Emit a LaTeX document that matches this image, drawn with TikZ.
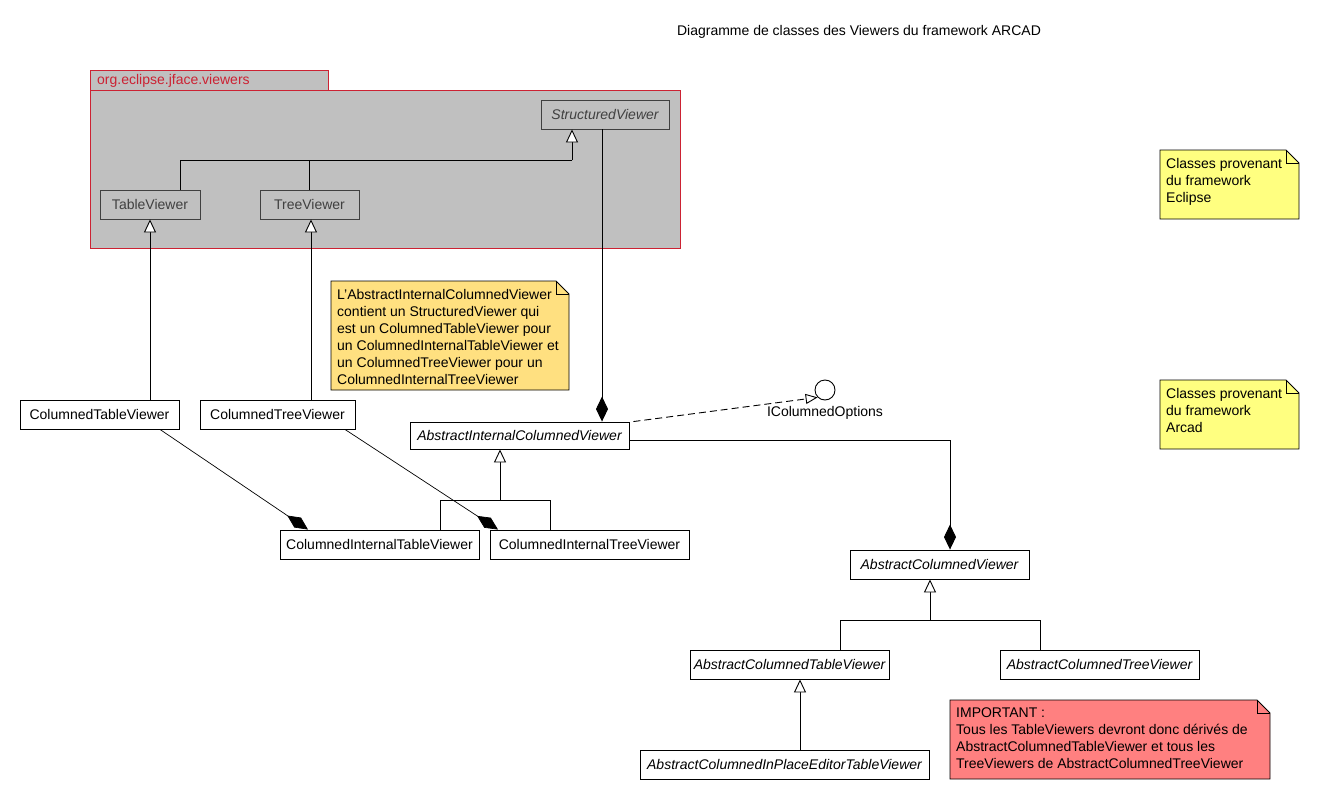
\documentclass[tikz,border=0pt]{standalone}
\usepackage{fontspec}
\setmainfont{Liberation Sans}
\usetikzlibrary{arrows.meta,calc}

\definecolor{pkgfill}{HTML}{C0C0C0}
\definecolor{pkgline}{HTML}{CC2233}
\definecolor{ink}{HTML}{404040}
\definecolor{notegold}{HTML}{FFE080}
\definecolor{noteyellow}{HTML}{FFFF80}
\definecolor{notered}{HTML}{FF8080}

\newcommand\uifont{\fontsize{14}{17}\selectfont}

\tikzset{
  cls/.style={draw, fill=white, inner sep=0pt, font=\uifont, line width=0.9pt},
  abs/.style={cls, font=\uifont\itshape},
  pcls/.style={cls, draw=ink, text=ink, fill=none},
  link/.style={draw, line width=0.9pt},
  gen/.style={link, -{Triangle[length=13pt,width=12pt,fill=white]}},
  comp/.style={link, -{Diamond[length=25pt,width=12pt]}},
  real/.style={link, dash pattern=on 7pt off 4pt, -{Triangle[length=12pt,width=10pt,fill=white]}},
  notebord/.style={draw=black, line width=0.9pt},
  notetext/.style={anchor=north west, align=left, font=\uifont, inner xsep=6pt, inner ysep=8pt},
}

% UML note: name, fill, x1, y1, x2, y2, text
\newcommand\notebox[7]{%
  \filldraw[fill=#2, notebord] (#3,#4) -- ({#5-13},#4) -- (#5,{#4+13}) -- (#5,#6) -- (#3,#6) -- cycle;
  \draw[notebord] ({#5-13},#4) -- ({#5-13},{#4+13}) -- (#5,{#4+13});
  \node[notetext] (#1) at (#3,#4) {#7};}

\begin{document}
\begin{tikzpicture}[x=1pt,y=-1pt]
\useasboundingbox[fill=white] (0,0) rectangle (1320,800);

% title
\node[font=\uifont] (title) at (859,32) {Diagramme de classes des Viewers du framework ARCAD};

% package org.eclipse.jface.viewers
\filldraw[fill=pkgfill, draw=pkgline, line width=0.9pt] (90,70) rectangle (328,90);
\filldraw[fill=pkgfill, draw=pkgline, line width=0.9pt] (90,90) rectangle (680,248);
\node[font=\uifont, text=pkgline, anchor=west, inner sep=0] (pkg) at (97,81) {org.eclipse.jface.viewers};

\node[pcls, font=\uifont\itshape, minimum width=128pt, minimum height=29pt] (sv) at (605,114.5) {StructuredViewer};
\node[pcls, minimum width=100pt, minimum height=29pt] (tav) at (150,204.5) {TableViewer};
\node[pcls, minimum width=99pt, minimum height=29pt] (trv) at (309.5,204.5) {TreeViewer};

% ARCAD classes
\node[cls, minimum width=159pt, minimum height=29pt] (ctv) at (99.5,414.5) {ColumnedTableViewer};
\node[cls, minimum width=155pt, minimum height=29pt] (crv) at (277.5,414.5) {ColumnedTreeViewer};
\node[abs, minimum width=219pt, minimum height=27pt] (aicv) at (519.5,435.5) {AbstractInternalColumnedViewer};
\node[cls, minimum width=199pt, minimum height=29pt] (citv) at (379.5,544.5) {ColumnedInternalTableViewer};
\node[cls, minimum width=199pt, minimum height=29pt] (cirv) at (589.5,544.5) {ColumnedInternalTreeViewer};
\node[abs, minimum width=179pt, minimum height=29pt] (acv) at (939.5,564.5) {AbstractColumnedViewer};
\node[abs, minimum width=199pt, minimum height=29pt] (actv) at (789.5,664.5) {AbstractColumnedTableViewer};
\node[abs, minimum width=199pt, minimum height=29pt] (acrv) at (1099.5,664.5) {AbstractColumnedTreeViewer};
\node[abs, minimum width=289pt, minimum height=29pt] (acipv) at (784.5,764.5) {AbstractColumnedInPlaceEditorTableViewer};

% interface
\node[draw, circle, line width=0.9pt, minimum size=20pt, inner sep=0pt, fill=white] (ico) at (825,390) {};
\node[font=\uifont, inner sep=0pt] (icol) at (825,413) {IColumnedOptions};

% notes
\notebox{noteint}{notegold}{331}{281}{569}{390}{L'AbstractInternalColumnedViewer\\contient un StructuredViewer qui\\est un ColumnedTableViewer pour\\un ColumnedInternalTableViewer et\\un ColumnedTreeViewer pour un\\ColumnedInternalTreeViewer}
\notebox{noteecl}{noteyellow}{1160}{150}{1299}{219}{Classes provenant\\du framework\\Eclipse}
\notebox{notearc}{noteyellow}{1160}{380}{1299}{449}{Classes provenant\\du framework\\Arcad}
\notebox{noteimp}{notered}{950}{700}{1270}{779}{IMPORTANT :\\Tous les TableViewers devront donc dérivés de\\AbstractColumnedTableViewer et tous les\\TreeViewers de AbstractColumnedTreeViewer}

% generalisations inside the package
\coordinate (jsv) at (572,160);
\draw[link] ([xshift=30pt]tav.north) |- (jsv);
\draw[link] (trv.north) -- (trv.north |- jsv);
\draw[gen] (jsv) -- (jsv |- sv.south);

% columned viewers extend the JFace viewers
\draw[gen] (ctv.north -| tav.south) -- (tav.south);
\draw[gen] ([xshift=1.5pt]trv.south |- crv.north) -- ([xshift=1.5pt]trv.south);

% StructuredViewer held by AbstractInternalColumnedViewer
\draw[comp] ([xshift=-3pt]sv.south) -- ([xshift=-3pt]sv.south |- aicv.north);

% realisation of IColumnedOptions
\draw[real] ([xshift=4pt]aicv.north east) -- (ico.-135);

% internal viewers extend AbstractInternalColumnedViewer
\coordinate (jai) at (500,500);
\draw[link] ([xshift=60.5pt]citv.north) |- ([xshift=-39.5pt]cirv.north |- jai) -- ([xshift=-39.5pt]cirv.north);
\draw[gen] (jai) -- (jai |- aicv.south);

% compositions of the columned viewers
\draw[comp, line width=0.7pt] ([xshift=60.5pt]ctv.south) -- ([xshift=-71.5pt]citv.north);
\draw[comp, line width=0.7pt] ([xshift=67.5pt]crv.south) -- ([xshift=-91.5pt]cirv.north);

% AbstractInternalColumnedViewer held by AbstractColumnedViewer
\draw[comp] ([yshift=-4.5pt]aicv.east) -| ([xshift=10.5pt]acv.north);

% AbstractColumnedViewer hierarchy
\coordinate (jac) at (930,620);
\draw[link] ([xshift=50.5pt]actv.north) |- ([xshift=-59.5pt]acrv.north |- jac) -- ([xshift=-59.5pt]acrv.north);
\draw[gen] (jac) -- (jac |- acv.south);
\draw[gen] ([xshift=10.5pt]actv.south |- acipv.north) -- ([xshift=10.5pt]actv.south);
\end{tikzpicture}
\end{document}
